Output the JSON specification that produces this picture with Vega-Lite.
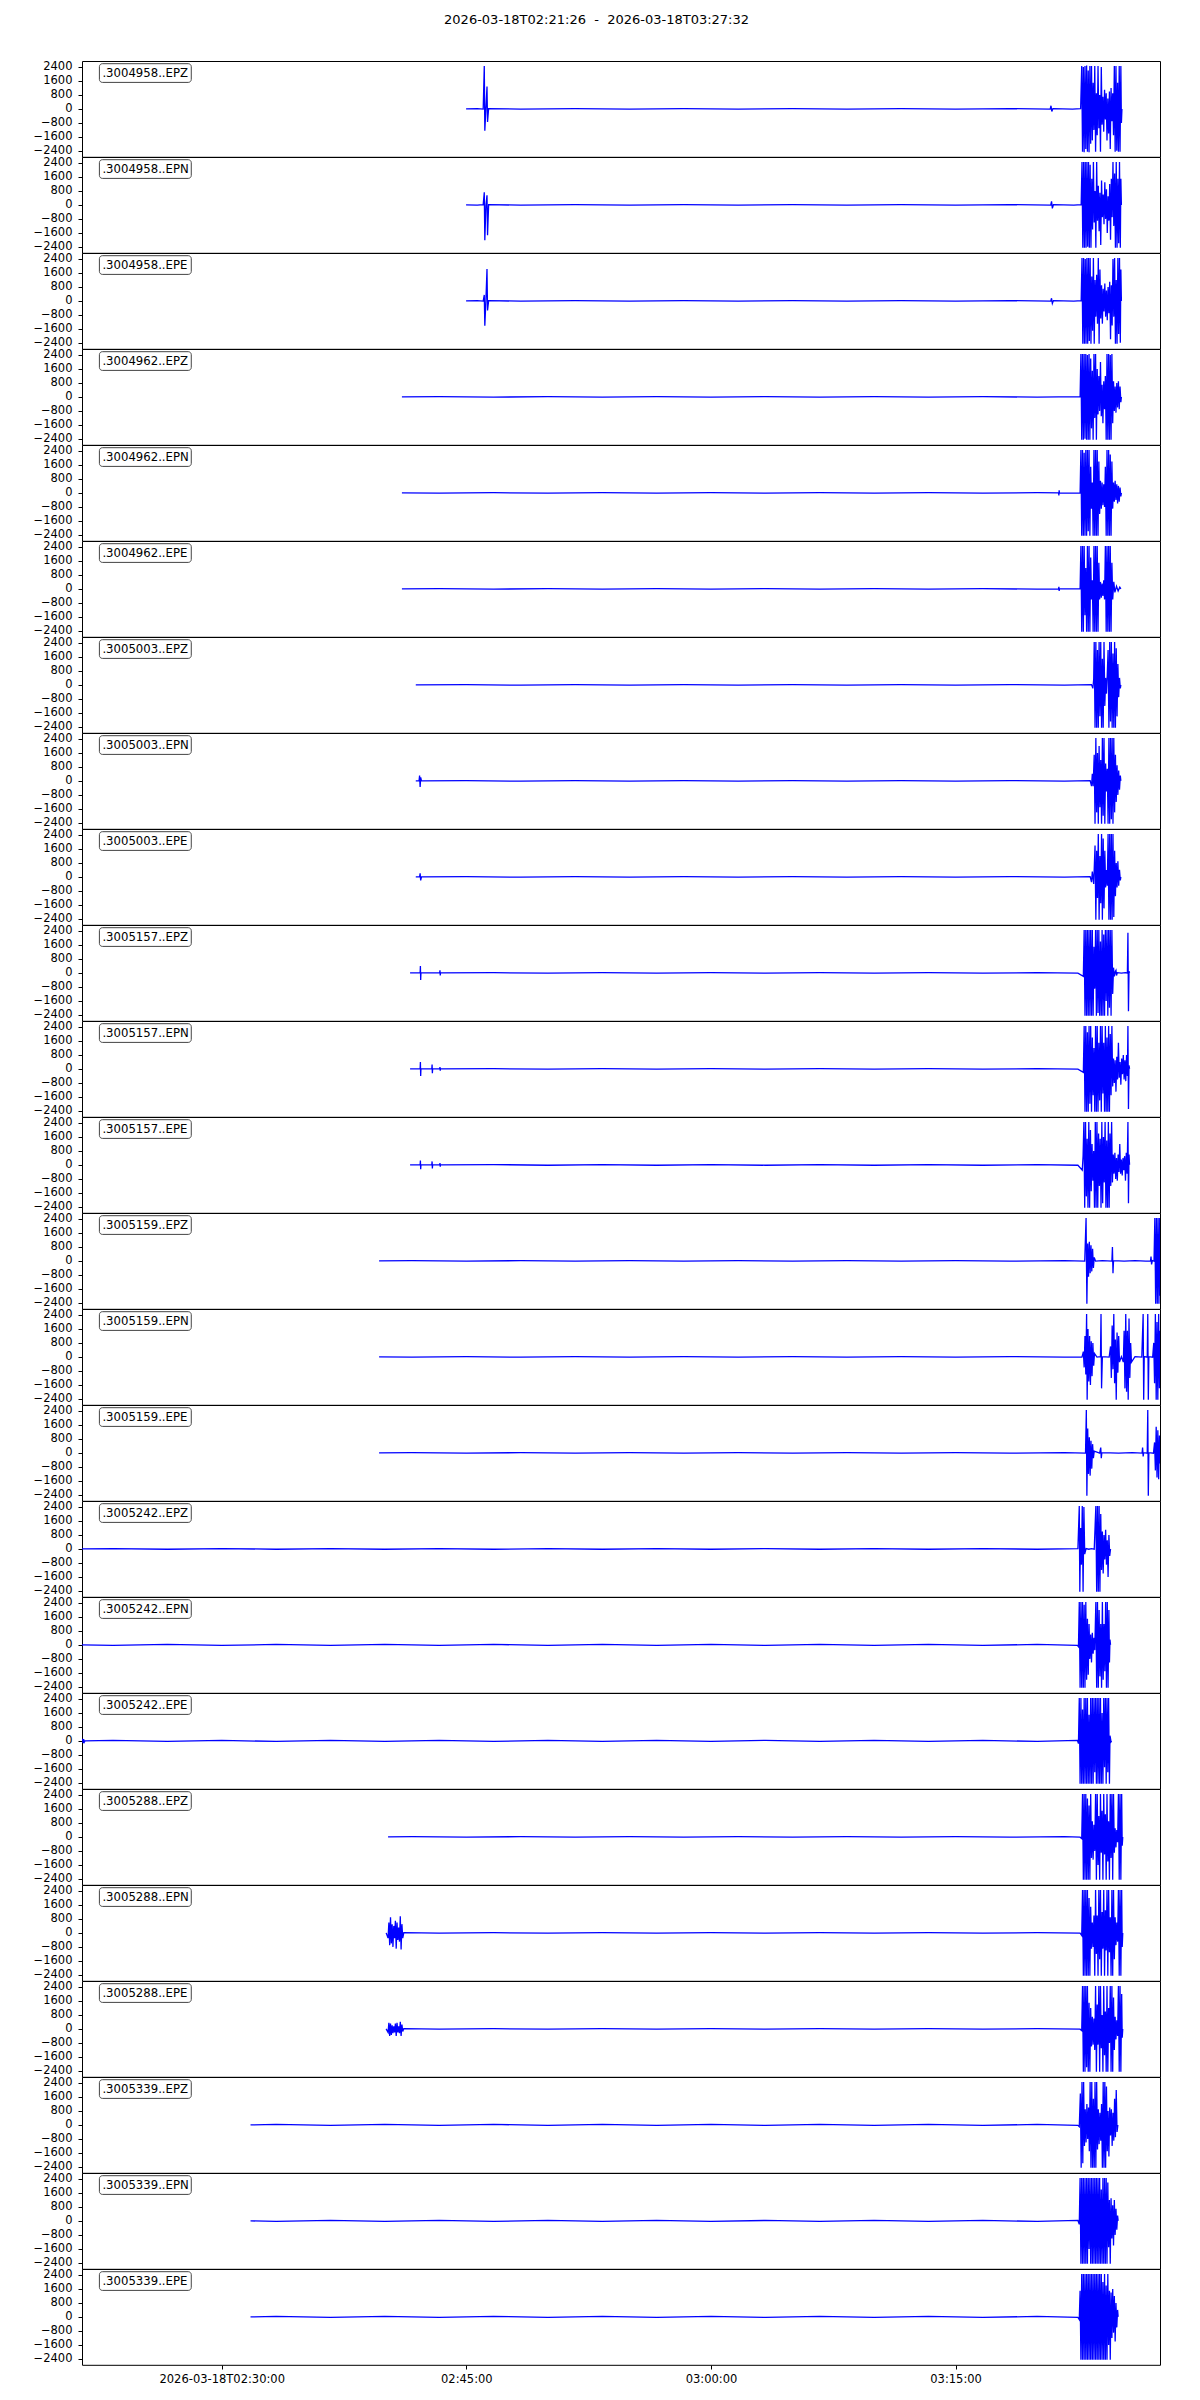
{
"$schema": "https://vega.github.io/schema/vega-lite/v6.json",
"padding": {"left": 32, "top": 14, "right": 41, "bottom": 10},
"background": "white",
"bounds": "flush",
"title": {"text": "2026-03-18T02:21:26\u00a0\u00a0-\u00a0\u00a02026-03-18T03:27:32", "fontSize": 13, "fontWeight": "normal", "font": "DejaVu Sans", "color": "black", "anchor": "middle", "offset": 33},
"data": {"values": [
{"p":1,"name":".3004958..EPZ"},{"p":2,"name":".3004958..EPN"},{"p":3,"name":".3004958..EPE"},
{"p":4,"name":".3004962..EPZ"},{"p":5,"name":".3004962..EPN"},{"p":6,"name":".3004962..EPE"},
{"p":7,"name":".3005003..EPZ"},{"p":8,"name":".3005003..EPN"},{"p":9,"name":".3005003..EPE"},
{"p":10,"name":".3005157..EPZ"},{"p":11,"name":".3005157..EPN"},{"p":12,"name":".3005157..EPE"},
{"p":13,"name":".3005159..EPZ"},{"p":14,"name":".3005159..EPN"},{"p":15,"name":".3005159..EPE"},
{"p":16,"name":".3005242..EPZ"},{"p":17,"name":".3005242..EPN"},{"p":18,"name":".3005242..EPE"},
{"p":19,"name":".3005288..EPZ"},{"p":20,"name":".3005288..EPN"},{"p":21,"name":".3005288..EPE"},
{"p":22,"name":".3005339..EPZ"},{"p":23,"name":".3005339..EPN"},{"p":24,"name":".3005339..EPE"},

{"p":1,"t":2699,"v":0},{"p":1,"t":2740,"v":15},{"p":1,"t":2762,"v":-15},{"p":1,"t":2766,"v":2450},{"p":1,"t":2768,"v":-1250},{"p":1,"t":2772,"v":30},{"p":1,"t":2776,"v":1280},{"p":1,"t":2778,"v":-750},{"p":1,"t":2782,"v":20},{"p":1,"t":2900,"v":-15},{"p":1,"t":3100,"v":15},{"p":1,"t":3300,"v":-15},{"p":1,"t":3500,"v":15},{"p":1,"t":3700,"v":-15},{"p":1,"t":3900,"v":15},{"p":1,"t":4100,"v":-15},{"p":1,"t":4300,"v":15},{"p":1,"t":4500,"v":-15},{"p":1,"t":4700,"v":15},{"p":1,"t":4848,"v":-15},{"p":1,"t":4851,"v":180},{"p":1,"t":4854,"v":-150},{"p":1,"t":4858,"v":15},{"p":1,"t":4930,"v":-15},{"p":1,"t":4960,"v":15},
{"p":1,"t":4964,"v":2450},{"p":1,"t":4967,"v":-2450},{"p":1,"t":4970,"v":2400},{"p":1,"t":4973,"v":-2480},{"p":1,"t":4976,"v":2450},{"p":1,"t":4979,"v":-2300},{"p":1,"t":4982,"v":2480},{"p":1,"t":4985,"v":-2450},{"p":1,"t":4988,"v":2200},{"p":1,"t":4991,"v":-2480},{"p":1,"t":4994,"v":2450},{"p":1,"t":4997,"v":-2000},{"p":1,"t":5000,"v":2450},{"p":1,"t":5003,"v":-1800},{"p":1,"t":5006,"v":1500},{"p":1,"t":5009,"v":-1200},{"p":1,"t":5012,"v":2450},{"p":1,"t":5015,"v":-2450},{"p":1,"t":5018,"v":900},{"p":1,"t":5021,"v":-1500},{"p":1,"t":5024,"v":2450},{"p":1,"t":5027,"v":-1100},{"p":1,"t":5030,"v":800},{"p":1,"t":5033,"v":-2450},{"p":1,"t":5036,"v":2400},{"p":1,"t":5039,"v":-900},{"p":1,"t":5042,"v":700},{"p":1,"t":5045,"v":-1300},{"p":1,"t":5048,"v":1100},{"p":1,"t":5051,"v":-600},{"p":1,"t":5054,"v":900},{"p":1,"t":5057,"v":-1800},{"p":1,"t":5060,"v":600},{"p":1,"t":5063,"v":-1400},{"p":1,"t":5066,"v":1000},{"p":1,"t":5069,"v":-2300},{"p":1,"t":5072,"v":1200},{"p":1,"t":5075,"v":-700},{"p":1,"t":5078,"v":900},{"p":1,"t":5081,"v":-1500},{"p":1,"t":5084,"v":2450},{"p":1,"t":5087,"v":-2450},{"p":1,"t":5090,"v":2450},{"p":1,"t":5093,"v":-2400},{"p":1,"t":5096,"v":1500},{"p":1,"t":5099,"v":-2450},{"p":1,"t":5102,"v":2450},{"p":1,"t":5105,"v":-2450},{"p":1,"t":5108,"v":2450},{"p":1,"t":5110,"v":-800},{"p":1,"t":5112,"v":0},

{"p":2,"t":2699,"v":0},{"p":2,"t":2740,"v":-15},{"p":2,"t":2762,"v":15},{"p":2,"t":2766,"v":720},{"p":2,"t":2768,"v":-2020},{"p":2,"t":2772,"v":-20},{"p":2,"t":2776,"v":550},{"p":2,"t":2778,"v":-1740},{"p":2,"t":2782,"v":15},{"p":2,"t":2900,"v":-15},{"p":2,"t":3100,"v":15},{"p":2,"t":3300,"v":-15},{"p":2,"t":3500,"v":15},{"p":2,"t":3700,"v":-15},{"p":2,"t":3900,"v":15},{"p":2,"t":4100,"v":-15},{"p":2,"t":4300,"v":15},{"p":2,"t":4500,"v":-15},{"p":2,"t":4700,"v":15},{"p":2,"t":4850,"v":-15},{"p":2,"t":4853,"v":200},{"p":2,"t":4856,"v":-200},{"p":2,"t":4860,"v":15},{"p":2,"t":4935,"v":-15},{"p":2,"t":4962,"v":15},
{"p":2,"t":4965,"v":2450},{"p":2,"t":4968,"v":-2450},{"p":2,"t":4971,"v":2450},{"p":2,"t":4974,"v":-2450},{"p":2,"t":4977,"v":2450},{"p":2,"t":4980,"v":-2450},{"p":2,"t":4983,"v":2450},{"p":2,"t":4986,"v":-2400},{"p":2,"t":4989,"v":2450},{"p":2,"t":4992,"v":-2450},{"p":2,"t":4995,"v":2300},{"p":2,"t":4998,"v":-2450},{"p":2,"t":5001,"v":1500},{"p":2,"t":5004,"v":-1400},{"p":2,"t":5007,"v":2450},{"p":2,"t":5010,"v":-1000},{"p":2,"t":5013,"v":800},{"p":2,"t":5016,"v":-2450},{"p":2,"t":5019,"v":2450},{"p":2,"t":5022,"v":-900},{"p":2,"t":5025,"v":1100},{"p":2,"t":5028,"v":-1500},{"p":2,"t":5031,"v":700},{"p":2,"t":5034,"v":-2300},{"p":2,"t":5037,"v":1400},{"p":2,"t":5040,"v":-700},{"p":2,"t":5043,"v":600},{"p":2,"t":5046,"v":-1100},{"p":2,"t":5049,"v":1300},{"p":2,"t":5052,"v":-800},{"p":2,"t":5055,"v":900},{"p":2,"t":5058,"v":-1600},{"p":2,"t":5061,"v":500},{"p":2,"t":5064,"v":-900},{"p":2,"t":5067,"v":1200},{"p":2,"t":5070,"v":-2000},{"p":2,"t":5073,"v":1500},{"p":2,"t":5076,"v":-700},{"p":2,"t":5079,"v":2450},{"p":2,"t":5082,"v":-1200},{"p":2,"t":5085,"v":1800},{"p":2,"t":5088,"v":-2450},{"p":2,"t":5091,"v":2450},{"p":2,"t":5094,"v":-2450},{"p":2,"t":5097,"v":1500},{"p":2,"t":5100,"v":-2200},{"p":2,"t":5103,"v":2450},{"p":2,"t":5106,"v":-2450},{"p":2,"t":5108,"v":1500},{"p":2,"t":5110,"v":0},

{"p":3,"t":2699,"v":0},{"p":3,"t":2740,"v":15},{"p":3,"t":2762,"v":-15},{"p":3,"t":2766,"v":340},{"p":3,"t":2768,"v":-1420},{"p":3,"t":2772,"v":20},{"p":3,"t":2776,"v":1830},{"p":3,"t":2778,"v":-550},{"p":3,"t":2782,"v":15},{"p":3,"t":2900,"v":-15},{"p":3,"t":3100,"v":15},{"p":3,"t":3300,"v":-15},{"p":3,"t":3500,"v":15},{"p":3,"t":3700,"v":-15},{"p":3,"t":3900,"v":15},{"p":3,"t":4100,"v":-15},{"p":3,"t":4300,"v":15},{"p":3,"t":4500,"v":-15},{"p":3,"t":4700,"v":15},{"p":3,"t":4850,"v":-15},{"p":3,"t":4853,"v":150},{"p":3,"t":4856,"v":-150},{"p":3,"t":4860,"v":15},{"p":3,"t":4935,"v":-15},{"p":3,"t":4962,"v":15},
{"p":3,"t":4965,"v":2450},{"p":3,"t":4968,"v":-2450},{"p":3,"t":4971,"v":2450},{"p":3,"t":4974,"v":-2450},{"p":3,"t":4977,"v":2400},{"p":3,"t":4980,"v":-2450},{"p":3,"t":4983,"v":2450},{"p":3,"t":4986,"v":-2450},{"p":3,"t":4989,"v":2450},{"p":3,"t":4992,"v":-2300},{"p":3,"t":4995,"v":2450},{"p":3,"t":4998,"v":-2450},{"p":3,"t":5001,"v":1400},{"p":3,"t":5004,"v":-1700},{"p":3,"t":5007,"v":2450},{"p":3,"t":5010,"v":-2450},{"p":3,"t":5013,"v":1200},{"p":3,"t":5016,"v":-900},{"p":3,"t":5019,"v":1500},{"p":3,"t":5022,"v":-1300},{"p":3,"t":5025,"v":2450},{"p":3,"t":5028,"v":-2450},{"p":3,"t":5031,"v":1800},{"p":3,"t":5034,"v":-1000},{"p":3,"t":5037,"v":900},{"p":3,"t":5040,"v":-1300},{"p":3,"t":5043,"v":700},{"p":3,"t":5046,"v":-600},{"p":3,"t":5049,"v":1000},{"p":3,"t":5052,"v":-900},{"p":3,"t":5055,"v":600},{"p":3,"t":5058,"v":-1100},{"p":3,"t":5061,"v":800},{"p":3,"t":5064,"v":-700},{"p":3,"t":5067,"v":1100},{"p":3,"t":5070,"v":-2200},{"p":3,"t":5073,"v":900},{"p":3,"t":5076,"v":-1400},{"p":3,"t":5079,"v":2400},{"p":3,"t":5082,"v":-900},{"p":3,"t":5085,"v":2450},{"p":3,"t":5088,"v":-2450},{"p":3,"t":5091,"v":1200},{"p":3,"t":5094,"v":-2450},{"p":3,"t":5097,"v":2450},{"p":3,"t":5100,"v":-1900},{"p":3,"t":5103,"v":2450},{"p":3,"t":5106,"v":-2400},{"p":3,"t":5108,"v":1800},{"p":3,"t":5110,"v":0},

{"p":4,"t":2463,"v":0},{"p":4,"t":2600,"v":15},{"p":4,"t":2800,"v":-15},{"p":4,"t":3000,"v":15},{"p":4,"t":3200,"v":-15},{"p":4,"t":3400,"v":15},{"p":4,"t":3600,"v":-15},{"p":4,"t":3800,"v":15},{"p":4,"t":4000,"v":-15},{"p":4,"t":4200,"v":15},{"p":4,"t":4400,"v":-15},{"p":4,"t":4600,"v":15},{"p":4,"t":4800,"v":-15},{"p":4,"t":4958,"v":15},
{"p":4,"t":4961,"v":2450},{"p":4,"t":4964,"v":-2450},{"p":4,"t":4967,"v":2450},{"p":4,"t":4970,"v":-2450},{"p":4,"t":4973,"v":2450},{"p":4,"t":4976,"v":-2400},{"p":4,"t":4979,"v":2450},{"p":4,"t":4982,"v":-2450},{"p":4,"t":4985,"v":2400},{"p":4,"t":4988,"v":-2450},{"p":4,"t":4991,"v":2450},{"p":4,"t":4994,"v":-2450},{"p":4,"t":4997,"v":2200},{"p":4,"t":5000,"v":-1800},{"p":4,"t":5003,"v":1500},{"p":4,"t":5006,"v":-2450},{"p":4,"t":5009,"v":2450},{"p":4,"t":5012,"v":-1200},{"p":4,"t":5015,"v":2450},{"p":4,"t":5018,"v":-2450},{"p":4,"t":5021,"v":1600},{"p":4,"t":5024,"v":-1000},{"p":4,"t":5027,"v":1200},{"p":4,"t":5030,"v":-800},{"p":4,"t":5033,"v":2000},{"p":4,"t":5036,"v":-1100},{"p":4,"t":5039,"v":700},{"p":4,"t":5042,"v":-1500},{"p":4,"t":5045,"v":900},{"p":4,"t":5048,"v":-700},{"p":4,"t":5051,"v":1200},{"p":4,"t":5054,"v":-2450},{"p":4,"t":5057,"v":2450},{"p":4,"t":5060,"v":-2450},{"p":4,"t":5063,"v":2450},{"p":4,"t":5066,"v":-2450},{"p":4,"t":5069,"v":2400},{"p":4,"t":5072,"v":-2450},{"p":4,"t":5075,"v":2450},{"p":4,"t":5078,"v":-1500},{"p":4,"t":5081,"v":900},{"p":4,"t":5084,"v":-800},{"p":4,"t":5087,"v":600},{"p":4,"t":5090,"v":-900},{"p":4,"t":5093,"v":800},{"p":4,"t":5096,"v":-600},{"p":4,"t":5099,"v":900},{"p":4,"t":5102,"v":-700},{"p":4,"t":5105,"v":600},{"p":4,"t":5108,"v":-300},{"p":4,"t":5110,"v":0},

{"p":5,"t":2463,"v":0},{"p":5,"t":2600,"v":-15},{"p":5,"t":2800,"v":15},{"p":5,"t":3000,"v":-15},{"p":5,"t":3200,"v":15},{"p":5,"t":3400,"v":-15},{"p":5,"t":3600,"v":15},{"p":5,"t":3800,"v":-15},{"p":5,"t":4000,"v":15},{"p":5,"t":4200,"v":-15},{"p":5,"t":4400,"v":15},{"p":5,"t":4600,"v":-15},{"p":5,"t":4800,"v":15},{"p":5,"t":4879,"v":0},{"p":5,"t":4880,"v":-150},{"p":5,"t":4881,"v":150},{"p":5,"t":4882,"v":0},{"p":5,"t":4958,"v":-15},
{"p":5,"t":4961,"v":2450},{"p":5,"t":4964,"v":-2450},{"p":5,"t":4967,"v":2450},{"p":5,"t":4970,"v":-2450},{"p":5,"t":4973,"v":2300},{"p":5,"t":4976,"v":-2450},{"p":5,"t":4979,"v":2450},{"p":5,"t":4982,"v":-2450},{"p":5,"t":4985,"v":2450},{"p":5,"t":4988,"v":-2200},{"p":5,"t":4991,"v":2450},{"p":5,"t":4994,"v":-2450},{"p":5,"t":4997,"v":1500},{"p":5,"t":5000,"v":-900},{"p":5,"t":5003,"v":600},{"p":5,"t":5006,"v":-2450},{"p":5,"t":5009,"v":2450},{"p":5,"t":5012,"v":-2450},{"p":5,"t":5015,"v":2450},{"p":5,"t":5018,"v":-2450},{"p":5,"t":5021,"v":2450},{"p":5,"t":5024,"v":-2450},{"p":5,"t":5027,"v":1800},{"p":5,"t":5030,"v":-1200},{"p":5,"t":5033,"v":700},{"p":5,"t":5036,"v":-900},{"p":5,"t":5039,"v":600},{"p":5,"t":5042,"v":-700},{"p":5,"t":5045,"v":500},{"p":5,"t":5048,"v":-800},{"p":5,"t":5051,"v":1500},{"p":5,"t":5054,"v":-2450},{"p":5,"t":5057,"v":2450},{"p":5,"t":5060,"v":-2450},{"p":5,"t":5063,"v":2450},{"p":5,"t":5066,"v":-2450},{"p":5,"t":5069,"v":2200},{"p":5,"t":5072,"v":-2450},{"p":5,"t":5075,"v":1800},{"p":5,"t":5078,"v":-900},{"p":5,"t":5081,"v":600},{"p":5,"t":5084,"v":-500},{"p":5,"t":5087,"v":700},{"p":5,"t":5090,"v":-400},{"p":5,"t":5093,"v":500},{"p":5,"t":5096,"v":-600},{"p":5,"t":5099,"v":400},{"p":5,"t":5102,"v":-500},{"p":5,"t":5105,"v":300},{"p":5,"t":5108,"v":-200},{"p":5,"t":5110,"v":0},

{"p":6,"t":2463,"v":0},{"p":6,"t":2600,"v":15},{"p":6,"t":2800,"v":-15},{"p":6,"t":3000,"v":15},{"p":6,"t":3200,"v":-15},{"p":6,"t":3400,"v":15},{"p":6,"t":3600,"v":-15},{"p":6,"t":3800,"v":15},{"p":6,"t":4000,"v":-15},{"p":6,"t":4200,"v":15},{"p":6,"t":4400,"v":-15},{"p":6,"t":4600,"v":15},{"p":6,"t":4800,"v":-15},{"p":6,"t":4879,"v":0},{"p":6,"t":4880,"v":120},{"p":6,"t":4881,"v":-120},{"p":6,"t":4882,"v":0},{"p":6,"t":4958,"v":15},
{"p":6,"t":4961,"v":2450},{"p":6,"t":4964,"v":-2450},{"p":6,"t":4967,"v":2450},{"p":6,"t":4970,"v":-2450},{"p":6,"t":4973,"v":2450},{"p":6,"t":4976,"v":-1500},{"p":6,"t":4979,"v":1200},{"p":6,"t":4982,"v":-2450},{"p":6,"t":4985,"v":2450},{"p":6,"t":4988,"v":-2450},{"p":6,"t":4991,"v":2450},{"p":6,"t":4994,"v":-2450},{"p":6,"t":4997,"v":1800},{"p":6,"t":5000,"v":-600},{"p":6,"t":5003,"v":500},{"p":6,"t":5006,"v":-2450},{"p":6,"t":5009,"v":2450},{"p":6,"t":5012,"v":-2450},{"p":6,"t":5015,"v":2450},{"p":6,"t":5018,"v":-2450},{"p":6,"t":5021,"v":2450},{"p":6,"t":5024,"v":-2450},{"p":6,"t":5027,"v":1500},{"p":6,"t":5030,"v":-600},{"p":6,"t":5033,"v":400},{"p":6,"t":5036,"v":-500},{"p":6,"t":5039,"v":300},{"p":6,"t":5042,"v":-400},{"p":6,"t":5045,"v":500},{"p":6,"t":5048,"v":-600},{"p":6,"t":5051,"v":2450},{"p":6,"t":5054,"v":-2450},{"p":6,"t":5057,"v":2450},{"p":6,"t":5060,"v":-2450},{"p":6,"t":5063,"v":2450},{"p":6,"t":5066,"v":-2450},{"p":6,"t":5069,"v":2450},{"p":6,"t":5072,"v":-2450},{"p":6,"t":5075,"v":1500},{"p":6,"t":5078,"v":-600},{"p":6,"t":5082,"v":400},{"p":6,"t":5086,"v":-200},{"p":6,"t":5092,"v":150},{"p":6,"t":5098,"v":-120},{"p":6,"t":5104,"v":100},{"p":6,"t":5108,"v":0},

{"p":7,"t":2514,"v":0},{"p":7,"t":2700,"v":15},{"p":7,"t":2900,"v":-15},{"p":7,"t":3100,"v":15},{"p":7,"t":3300,"v":-15},{"p":7,"t":3500,"v":15},{"p":7,"t":3700,"v":-15},{"p":7,"t":3900,"v":15},{"p":7,"t":4100,"v":-15},{"p":7,"t":4300,"v":15},{"p":7,"t":4500,"v":-15},{"p":7,"t":4700,"v":15},{"p":7,"t":4900,"v":-15},{"p":7,"t":5000,"v":15},
{"p":7,"t":5005,"v":-200},{"p":7,"t":5008,"v":300},{"p":7,"t":5010,"v":2450},{"p":7,"t":5013,"v":-2450},{"p":7,"t":5016,"v":2450},{"p":7,"t":5019,"v":-2450},{"p":7,"t":5022,"v":2000},{"p":7,"t":5025,"v":-2450},{"p":7,"t":5028,"v":2450},{"p":7,"t":5031,"v":-1800},{"p":7,"t":5034,"v":2450},{"p":7,"t":5037,"v":-2450},{"p":7,"t":5040,"v":1500},{"p":7,"t":5043,"v":-2450},{"p":7,"t":5046,"v":2450},{"p":7,"t":5049,"v":-1200},{"p":7,"t":5052,"v":400},{"p":7,"t":5055,"v":-500},{"p":7,"t":5058,"v":600},{"p":7,"t":5061,"v":2000},{"p":7,"t":5064,"v":-2450},{"p":7,"t":5067,"v":2450},{"p":7,"t":5070,"v":-2100},{"p":7,"t":5073,"v":2450},{"p":7,"t":5076,"v":-2450},{"p":7,"t":5079,"v":1800},{"p":7,"t":5082,"v":-2450},{"p":7,"t":5085,"v":2450},{"p":7,"t":5088,"v":-2450},{"p":7,"t":5091,"v":2100},{"p":7,"t":5094,"v":-1800},{"p":7,"t":5097,"v":1200},{"p":7,"t":5100,"v":-700},{"p":7,"t":5103,"v":400},{"p":7,"t":5106,"v":-200},{"p":7,"t":5108,"v":0},

{"p":8,"t":2514,"v":0},{"p":8,"t":2526,"v":0},{"p":8,"t":2528,"v":300},{"p":8,"t":2530,"v":-350},{"p":8,"t":2532,"v":200},{"p":8,"t":2535,"v":0},{"p":8,"t":2700,"v":15},{"p":8,"t":2900,"v":-15},{"p":8,"t":3100,"v":15},{"p":8,"t":3300,"v":-15},{"p":8,"t":3500,"v":15},{"p":8,"t":3700,"v":-15},{"p":8,"t":3900,"v":15},{"p":8,"t":4100,"v":-15},{"p":8,"t":4300,"v":15},{"p":8,"t":4500,"v":-15},{"p":8,"t":4700,"v":15},{"p":8,"t":4900,"v":-15},{"p":8,"t":4995,"v":15},
{"p":8,"t":5000,"v":-300},{"p":8,"t":5003,"v":400},{"p":8,"t":5006,"v":-300},{"p":8,"t":5010,"v":1500},{"p":8,"t":5013,"v":-2450},{"p":8,"t":5016,"v":2450},{"p":8,"t":5019,"v":-1800},{"p":8,"t":5022,"v":1600},{"p":8,"t":5025,"v":-2450},{"p":8,"t":5028,"v":2000},{"p":8,"t":5031,"v":-1500},{"p":8,"t":5034,"v":1200},{"p":8,"t":5037,"v":-2450},{"p":8,"t":5040,"v":2450},{"p":8,"t":5043,"v":-2000},{"p":8,"t":5046,"v":2450},{"p":8,"t":5049,"v":-2450},{"p":8,"t":5052,"v":1000},{"p":8,"t":5055,"v":-600},{"p":8,"t":5058,"v":700},{"p":8,"t":5061,"v":-2450},{"p":8,"t":5064,"v":2450},{"p":8,"t":5067,"v":-2450},{"p":8,"t":5070,"v":2450},{"p":8,"t":5073,"v":-2200},{"p":8,"t":5076,"v":2450},{"p":8,"t":5079,"v":-2450},{"p":8,"t":5082,"v":2450},{"p":8,"t":5085,"v":-1800},{"p":8,"t":5088,"v":1500},{"p":8,"t":5091,"v":-1200},{"p":8,"t":5094,"v":900},{"p":8,"t":5097,"v":-800},{"p":8,"t":5100,"v":600},{"p":8,"t":5103,"v":-500},{"p":8,"t":5106,"v":300},{"p":8,"t":5108,"v":0},

{"p":9,"t":2514,"v":0},{"p":9,"t":2528,"v":0},{"p":9,"t":2530,"v":200},{"p":9,"t":2532,"v":-200},{"p":9,"t":2535,"v":0},{"p":9,"t":2700,"v":15},{"p":9,"t":2900,"v":-15},{"p":9,"t":3100,"v":15},{"p":9,"t":3300,"v":-15},{"p":9,"t":3500,"v":15},{"p":9,"t":3700,"v":-15},{"p":9,"t":3900,"v":15},{"p":9,"t":4100,"v":-15},{"p":9,"t":4300,"v":15},{"p":9,"t":4500,"v":-15},{"p":9,"t":4700,"v":15},{"p":9,"t":4900,"v":-15},{"p":9,"t":4995,"v":15},
{"p":9,"t":5000,"v":-300},{"p":9,"t":5003,"v":300},{"p":9,"t":5008,"v":-400},{"p":9,"t":5013,"v":1800},{"p":9,"t":5016,"v":-2450},{"p":9,"t":5019,"v":1500},{"p":9,"t":5022,"v":-1200},{"p":9,"t":5025,"v":2450},{"p":9,"t":5028,"v":-2450},{"p":9,"t":5031,"v":1200},{"p":9,"t":5034,"v":-1500},{"p":9,"t":5037,"v":2450},{"p":9,"t":5040,"v":-2450},{"p":9,"t":5043,"v":2200},{"p":9,"t":5046,"v":-1800},{"p":9,"t":5049,"v":1500},{"p":9,"t":5052,"v":-600},{"p":9,"t":5055,"v":400},{"p":9,"t":5058,"v":-500},{"p":9,"t":5061,"v":2450},{"p":9,"t":5064,"v":-2450},{"p":9,"t":5067,"v":2450},{"p":9,"t":5070,"v":-2450},{"p":9,"t":5073,"v":2450},{"p":9,"t":5076,"v":-2450},{"p":9,"t":5079,"v":2450},{"p":9,"t":5082,"v":-2300},{"p":9,"t":5085,"v":1500},{"p":9,"t":5088,"v":-1100},{"p":9,"t":5091,"v":800},{"p":9,"t":5094,"v":-600},{"p":9,"t":5097,"v":900},{"p":9,"t":5100,"v":-500},{"p":9,"t":5103,"v":400},{"p":9,"t":5106,"v":-200},{"p":9,"t":5108,"v":0},

{"p":10,"t":2493,"v":0},{"p":10,"t":2530,"v":0},{"p":10,"t":2531,"v":400},{"p":10,"t":2532,"v":-400},{"p":10,"t":2533,"v":0},{"p":10,"t":2602,"v":0},{"p":10,"t":2603,"v":150},{"p":10,"t":2604,"v":-150},{"p":10,"t":2605,"v":0},{"p":10,"t":2800,"v":15},{"p":10,"t":3000,"v":-15},{"p":10,"t":3200,"v":15},{"p":10,"t":3400,"v":-15},{"p":10,"t":3600,"v":15},{"p":10,"t":3800,"v":-15},{"p":10,"t":4000,"v":15},{"p":10,"t":4200,"v":-15},{"p":10,"t":4400,"v":15},{"p":10,"t":4600,"v":-15},{"p":10,"t":4800,"v":15},{"p":10,"t":4950,"v":-15},
{"p":10,"t":4970,"v":-200},{"p":10,"t":4973,"v":2450},{"p":10,"t":4976,"v":-2450},{"p":10,"t":4979,"v":2450},{"p":10,"t":4982,"v":-2450},{"p":10,"t":4985,"v":2450},{"p":10,"t":4988,"v":-2450},{"p":10,"t":4991,"v":2450},{"p":10,"t":4994,"v":-2450},{"p":10,"t":4997,"v":2450},{"p":10,"t":5000,"v":-2450},{"p":10,"t":5003,"v":2450},{"p":10,"t":5006,"v":-2450},{"p":10,"t":5009,"v":1500},{"p":10,"t":5012,"v":-900},{"p":10,"t":5015,"v":2450},{"p":10,"t":5018,"v":-2450},{"p":10,"t":5021,"v":2450},{"p":10,"t":5024,"v":-2300},{"p":10,"t":5027,"v":2450},{"p":10,"t":5030,"v":-2450},{"p":10,"t":5033,"v":1800},{"p":10,"t":5036,"v":-2450},{"p":10,"t":5039,"v":2450},{"p":10,"t":5042,"v":-2450},{"p":10,"t":5045,"v":2200},{"p":10,"t":5048,"v":-2450},{"p":10,"t":5051,"v":2450},{"p":10,"t":5054,"v":-1600},{"p":10,"t":5057,"v":2450},{"p":10,"t":5060,"v":-2450},{"p":10,"t":5063,"v":2450},{"p":10,"t":5066,"v":-2000},{"p":10,"t":5069,"v":2450},{"p":10,"t":5072,"v":-2450},{"p":10,"t":5075,"v":2450},{"p":10,"t":5078,"v":-1200},{"p":10,"t":5081,"v":300},{"p":10,"t":5084,"v":-200},{"p":10,"t":5088,"v":100},{"p":10,"t":5090,"v":150},{"p":10,"t":5092,"v":-150},{"p":10,"t":5095,"v":15},{"p":10,"t":5110,"v":-15},{"p":10,"t":5125,"v":15},{"p":10,"t":5132,"v":-15},{"p":10,"t":5134,"v":2300},{"p":10,"t":5136,"v":-2200},{"p":10,"t":5138,"v":100},{"p":10,"t":5140,"v":0},

{"p":11,"t":2493,"v":0},{"p":11,"t":2530,"v":0},{"p":11,"t":2531,"v":400},{"p":11,"t":2532,"v":-400},{"p":11,"t":2533,"v":0},{"p":11,"t":2573,"v":0},{"p":11,"t":2574,"v":250},{"p":11,"t":2575,"v":-250},{"p":11,"t":2576,"v":0},{"p":11,"t":2602,"v":0},{"p":11,"t":2603,"v":100},{"p":11,"t":2604,"v":-100},{"p":11,"t":2605,"v":0},{"p":11,"t":2800,"v":15},{"p":11,"t":3000,"v":-15},{"p":11,"t":3200,"v":15},{"p":11,"t":3400,"v":-15},{"p":11,"t":3600,"v":15},{"p":11,"t":3800,"v":-15},{"p":11,"t":4000,"v":15},{"p":11,"t":4200,"v":-15},{"p":11,"t":4400,"v":15},{"p":11,"t":4600,"v":-15},{"p":11,"t":4800,"v":15},{"p":11,"t":4950,"v":-15},
{"p":11,"t":4970,"v":-200},{"p":11,"t":4973,"v":2450},{"p":11,"t":4976,"v":-2450},{"p":11,"t":4979,"v":2450},{"p":11,"t":4982,"v":-2450},{"p":11,"t":4985,"v":2100},{"p":11,"t":4988,"v":-2450},{"p":11,"t":4991,"v":2450},{"p":11,"t":4994,"v":-2000},{"p":11,"t":4997,"v":2450},{"p":11,"t":5000,"v":-2450},{"p":11,"t":5003,"v":1800},{"p":11,"t":5006,"v":-1500},{"p":11,"t":5009,"v":1200},{"p":11,"t":5012,"v":-2450},{"p":11,"t":5015,"v":2450},{"p":11,"t":5018,"v":-2450},{"p":11,"t":5021,"v":2450},{"p":11,"t":5024,"v":-2450},{"p":11,"t":5027,"v":1500},{"p":11,"t":5030,"v":-1800},{"p":11,"t":5033,"v":2450},{"p":11,"t":5036,"v":-2450},{"p":11,"t":5039,"v":2450},{"p":11,"t":5042,"v":-1400},{"p":11,"t":5045,"v":1500},{"p":11,"t":5048,"v":-2450},{"p":11,"t":5051,"v":2450},{"p":11,"t":5054,"v":-2450},{"p":11,"t":5057,"v":1800},{"p":11,"t":5060,"v":-2450},{"p":11,"t":5063,"v":2450},{"p":11,"t":5066,"v":-2450},{"p":11,"t":5069,"v":2000},{"p":11,"t":5072,"v":-1500},{"p":11,"t":5075,"v":2450},{"p":11,"t":5078,"v":-1000},{"p":11,"t":5081,"v":600},{"p":11,"t":5084,"v":-800},{"p":11,"t":5087,"v":500},{"p":11,"t":5090,"v":-1300},{"p":11,"t":5093,"v":700},{"p":11,"t":5096,"v":-600},{"p":11,"t":5099,"v":1500},{"p":11,"t":5102,"v":-500},{"p":11,"t":5105,"v":400},{"p":11,"t":5108,"v":-900},{"p":11,"t":5111,"v":600},{"p":11,"t":5114,"v":-300},{"p":11,"t":5117,"v":800},{"p":11,"t":5120,"v":-600},{"p":11,"t":5123,"v":500},{"p":11,"t":5126,"v":-700},{"p":11,"t":5129,"v":800},{"p":11,"t":5132,"v":-400},{"p":11,"t":5134,"v":2450},{"p":11,"t":5136,"v":-2300},{"p":11,"t":5138,"v":200},{"p":11,"t":5140,"v":0},

{"p":12,"t":2493,"v":0},{"p":12,"t":2530,"v":0},{"p":12,"t":2531,"v":250},{"p":12,"t":2532,"v":-250},{"p":12,"t":2533,"v":0},{"p":12,"t":2573,"v":0},{"p":12,"t":2574,"v":200},{"p":12,"t":2575,"v":-200},{"p":12,"t":2576,"v":0},{"p":12,"t":2602,"v":0},{"p":12,"t":2603,"v":100},{"p":12,"t":2604,"v":-100},{"p":12,"t":2605,"v":0},{"p":12,"t":2800,"v":20},{"p":12,"t":3000,"v":-20},{"p":12,"t":3200,"v":20},{"p":12,"t":3400,"v":-20},{"p":12,"t":3600,"v":20},{"p":12,"t":3800,"v":-20},{"p":12,"t":4000,"v":20},{"p":12,"t":4200,"v":-20},{"p":12,"t":4400,"v":20},{"p":12,"t":4600,"v":-20},{"p":12,"t":4800,"v":20},{"p":12,"t":4950,"v":-20},
{"p":12,"t":4966,"v":-300},{"p":12,"t":4969,"v":500},{"p":12,"t":4972,"v":2450},{"p":12,"t":4975,"v":-2450},{"p":12,"t":4978,"v":2450},{"p":12,"t":4981,"v":-1800},{"p":12,"t":4984,"v":1500},{"p":12,"t":4987,"v":-2450},{"p":12,"t":4990,"v":2450},{"p":12,"t":4993,"v":-2450},{"p":12,"t":4996,"v":2000},{"p":12,"t":4999,"v":-1500},{"p":12,"t":5002,"v":1200},{"p":12,"t":5005,"v":-900},{"p":12,"t":5008,"v":800},{"p":12,"t":5011,"v":-2450},{"p":12,"t":5014,"v":2450},{"p":12,"t":5017,"v":-2450},{"p":12,"t":5020,"v":2450},{"p":12,"t":5023,"v":-2450},{"p":12,"t":5026,"v":1800},{"p":12,"t":5029,"v":-1200},{"p":12,"t":5032,"v":1500},{"p":12,"t":5035,"v":-2450},{"p":12,"t":5038,"v":2450},{"p":12,"t":5041,"v":-2200},{"p":12,"t":5044,"v":1600},{"p":12,"t":5047,"v":-1000},{"p":12,"t":5050,"v":2450},{"p":12,"t":5053,"v":-2450},{"p":12,"t":5056,"v":1400},{"p":12,"t":5059,"v":-2450},{"p":12,"t":5062,"v":2450},{"p":12,"t":5065,"v":-2450},{"p":12,"t":5068,"v":1800},{"p":12,"t":5071,"v":-1200},{"p":12,"t":5074,"v":2450},{"p":12,"t":5077,"v":-1000},{"p":12,"t":5080,"v":600},{"p":12,"t":5083,"v":-500},{"p":12,"t":5086,"v":700},{"p":12,"t":5089,"v":-800},{"p":12,"t":5092,"v":400},{"p":12,"t":5095,"v":-900},{"p":12,"t":5098,"v":600},{"p":12,"t":5101,"v":-400},{"p":12,"t":5104,"v":1200},{"p":12,"t":5107,"v":-500},{"p":12,"t":5110,"v":300},{"p":12,"t":5113,"v":-600},{"p":12,"t":5116,"v":400},{"p":12,"t":5119,"v":-300},{"p":12,"t":5122,"v":500},{"p":12,"t":5125,"v":-900},{"p":12,"t":5128,"v":700},{"p":12,"t":5131,"v":-500},{"p":12,"t":5134,"v":2450},{"p":12,"t":5136,"v":-2200},{"p":12,"t":5138,"v":600},{"p":12,"t":5140,"v":0},

{"p":13,"t":2379,"v":0},{"p":13,"t":2500,"v":15},{"p":13,"t":2700,"v":-15},{"p":13,"t":2900,"v":15},{"p":13,"t":3100,"v":-15},{"p":13,"t":3300,"v":15},{"p":13,"t":3500,"v":-15},{"p":13,"t":3700,"v":15},{"p":13,"t":3900,"v":-15},{"p":13,"t":4100,"v":15},{"p":13,"t":4300,"v":-15},{"p":13,"t":4500,"v":15},{"p":13,"t":4700,"v":-15},{"p":13,"t":4900,"v":15},{"p":13,"t":4975,"v":-15},
{"p":13,"t":4980,"v":2450},{"p":13,"t":4983,"v":-2450},{"p":13,"t":4986,"v":1000},{"p":13,"t":4989,"v":-900},{"p":13,"t":4992,"v":1100},{"p":13,"t":4995,"v":-700},{"p":13,"t":4998,"v":900},{"p":13,"t":5001,"v":-600},{"p":13,"t":5004,"v":700},{"p":13,"t":5007,"v":-400},{"p":13,"t":5010,"v":200},{"p":13,"t":5015,"v":-15},{"p":13,"t":5040,"v":15},{"p":13,"t":5075,"v":-15},{"p":13,"t":5077,"v":800},{"p":13,"t":5079,"v":-700},{"p":13,"t":5081,"v":15},{"p":13,"t":5120,"v":-15},{"p":13,"t":5160,"v":15},{"p":13,"t":5200,"v":-15},{"p":13,"t":5217,"v":-15},{"p":13,"t":5219,"v":250},{"p":13,"t":5221,"v":-200},{"p":13,"t":5224,"v":15},{"p":13,"t":5230,"v":-15},{"p":13,"t":5233,"v":2450},{"p":13,"t":5236,"v":-2450},{"p":13,"t":5239,"v":2450},{"p":13,"t":5242,"v":-2450},{"p":13,"t":5245,"v":2450},{"p":13,"t":5248,"v":-2450},{"p":13,"t":5251,"v":2450},{"p":13,"t":5252,"v":-2000},

{"p":14,"t":2379,"v":0},{"p":14,"t":2500,"v":-15},{"p":14,"t":2700,"v":15},{"p":14,"t":2900,"v":-15},{"p":14,"t":3100,"v":15},{"p":14,"t":3300,"v":-15},{"p":14,"t":3500,"v":15},{"p":14,"t":3700,"v":-15},{"p":14,"t":3900,"v":15},{"p":14,"t":4100,"v":-15},{"p":14,"t":4300,"v":15},{"p":14,"t":4500,"v":-15},{"p":14,"t":4700,"v":15},{"p":14,"t":4900,"v":-15},{"p":14,"t":4965,"v":-15},
{"p":14,"t":4970,"v":300},{"p":14,"t":4973,"v":-600},{"p":14,"t":4976,"v":1200},{"p":14,"t":4979,"v":-1000},{"p":14,"t":4982,"v":2450},{"p":14,"t":4984,"v":-2450},{"p":14,"t":4987,"v":1600},{"p":14,"t":4990,"v":-1400},{"p":14,"t":4993,"v":1200},{"p":14,"t":4996,"v":-1600},{"p":14,"t":4999,"v":900},{"p":14,"t":5002,"v":-1100},{"p":14,"t":5005,"v":800},{"p":14,"t":5008,"v":-500},{"p":14,"t":5011,"v":200},{"p":14,"t":5020,"v":-15},{"p":14,"t":5033,"v":15},{"p":14,"t":5035,"v":2450},{"p":14,"t":5037,"v":-1800},{"p":14,"t":5040,"v":15},{"p":14,"t":5065,"v":-15},{"p":14,"t":5070,"v":600},{"p":14,"t":5073,"v":-1200},{"p":14,"t":5076,"v":1800},{"p":14,"t":5079,"v":-700},{"p":14,"t":5082,"v":2450},{"p":14,"t":5085,"v":-1500},{"p":14,"t":5088,"v":1000},{"p":14,"t":5091,"v":-2450},{"p":14,"t":5094,"v":1400},{"p":14,"t":5097,"v":-900},{"p":14,"t":5100,"v":1200},{"p":14,"t":5103,"v":-300},{"p":14,"t":5110,"v":15},{"p":14,"t":5117,"v":-300},{"p":14,"t":5120,"v":1500},{"p":14,"t":5123,"v":-1800},{"p":14,"t":5126,"v":2450},{"p":14,"t":5129,"v":-2000},{"p":14,"t":5132,"v":1500},{"p":14,"t":5135,"v":-2450},{"p":14,"t":5138,"v":2200},{"p":14,"t":5141,"v":-1200},{"p":14,"t":5144,"v":800},{"p":14,"t":5147,"v":-300},{"p":14,"t":5160,"v":15},{"p":14,"t":5185,"v":-15},{"p":14,"t":5190,"v":2450},{"p":14,"t":5192,"v":-2450},{"p":14,"t":5194,"v":15},{"p":14,"t":5205,"v":-15},{"p":14,"t":5207,"v":2450},{"p":14,"t":5209,"v":-2450},{"p":14,"t":5211,"v":15},{"p":14,"t":5225,"v":-15},{"p":14,"t":5229,"v":800},{"p":14,"t":5232,"v":-1500},{"p":14,"t":5235,"v":2450},{"p":14,"t":5238,"v":-2450},{"p":14,"t":5241,"v":2000},{"p":14,"t":5244,"v":-2450},{"p":14,"t":5247,"v":2450},{"p":14,"t":5250,"v":-1800},{"p":14,"t":5252,"v":1500},

{"p":15,"t":2379,"v":0},{"p":15,"t":2500,"v":15},{"p":15,"t":2700,"v":-15},{"p":15,"t":2900,"v":15},{"p":15,"t":3100,"v":-15},{"p":15,"t":3300,"v":15},{"p":15,"t":3500,"v":-15},{"p":15,"t":3700,"v":15},{"p":15,"t":3900,"v":-15},{"p":15,"t":4100,"v":15},{"p":15,"t":4300,"v":-15},{"p":15,"t":4500,"v":15},{"p":15,"t":4700,"v":-15},{"p":15,"t":4900,"v":15},{"p":15,"t":4978,"v":-15},
{"p":15,"t":4981,"v":2450},{"p":15,"t":4983,"v":-2450},{"p":15,"t":4986,"v":1400},{"p":15,"t":4989,"v":-1200},{"p":15,"t":4992,"v":900},{"p":15,"t":4995,"v":-1300},{"p":15,"t":4998,"v":700},{"p":15,"t":5001,"v":-900},{"p":15,"t":5004,"v":500},{"p":15,"t":5007,"v":-300},{"p":15,"t":5010,"v":100},{"p":15,"t":5030,"v":-15},{"p":15,"t":5034,"v":300},{"p":15,"t":5036,"v":-300},{"p":15,"t":5038,"v":15},{"p":15,"t":5100,"v":-15},{"p":15,"t":5150,"v":15},{"p":15,"t":5186,"v":-15},{"p":15,"t":5188,"v":300},{"p":15,"t":5190,"v":-200},{"p":15,"t":5192,"v":15},{"p":15,"t":5205,"v":-15},{"p":15,"t":5207,"v":2450},{"p":15,"t":5209,"v":-2450},{"p":15,"t":5211,"v":15},{"p":15,"t":5228,"v":-15},{"p":15,"t":5232,"v":600},{"p":15,"t":5235,"v":-1000},{"p":15,"t":5238,"v":1500},{"p":15,"t":5241,"v":-1400},{"p":15,"t":5244,"v":1300},{"p":15,"t":5247,"v":-1500},{"p":15,"t":5250,"v":1000},{"p":15,"t":5252,"v":-600},

{"p":16,"t":1286,"v":0},{"p":16,"t":1400,"v":20},{"p":16,"t":1600,"v":-20},{"p":16,"t":1800,"v":20},{"p":16,"t":2000,"v":-20},{"p":16,"t":2200,"v":20},{"p":16,"t":2400,"v":-20},{"p":16,"t":2600,"v":20},{"p":16,"t":2800,"v":-20},{"p":16,"t":3000,"v":20},{"p":16,"t":3200,"v":-20},{"p":16,"t":3400,"v":20},{"p":16,"t":3600,"v":-20},{"p":16,"t":3800,"v":20},{"p":16,"t":4000,"v":-20},{"p":16,"t":4200,"v":20},{"p":16,"t":4400,"v":-20},{"p":16,"t":4600,"v":20},{"p":16,"t":4800,"v":-20},{"p":16,"t":4950,"v":20},
{"p":16,"t":4955,"v":2450},{"p":16,"t":4957,"v":-2450},{"p":16,"t":4960,"v":1200},{"p":16,"t":4963,"v":-900},{"p":16,"t":4966,"v":2450},{"p":16,"t":4969,"v":-2450},{"p":16,"t":4972,"v":2400},{"p":16,"t":4975,"v":-300},{"p":16,"t":4980,"v":20},{"p":16,"t":4990,"v":-20},{"p":16,"t":5000,"v":20},{"p":16,"t":5010,"v":-20},{"p":16,"t":5016,"v":2450},{"p":16,"t":5019,"v":-2450},{"p":16,"t":5022,"v":2450},{"p":16,"t":5025,"v":-2450},{"p":16,"t":5028,"v":2450},{"p":16,"t":5031,"v":-2450},{"p":16,"t":5034,"v":2000},{"p":16,"t":5037,"v":-1200},{"p":16,"t":5040,"v":1000},{"p":16,"t":5043,"v":-1400},{"p":16,"t":5046,"v":800},{"p":16,"t":5049,"v":-600},{"p":16,"t":5052,"v":1100},{"p":16,"t":5055,"v":-900},{"p":16,"t":5058,"v":500},{"p":16,"t":5061,"v":-1600},{"p":16,"t":5064,"v":800},{"p":16,"t":5067,"v":-400},{"p":16,"t":5070,"v":0},

{"p":17,"t":1286,"v":0},{"p":17,"t":1400,"v":-25},{"p":17,"t":1600,"v":25},{"p":17,"t":1800,"v":-25},{"p":17,"t":2000,"v":25},{"p":17,"t":2200,"v":-25},{"p":17,"t":2400,"v":25},{"p":17,"t":2600,"v":-25},{"p":17,"t":2800,"v":25},{"p":17,"t":3000,"v":-25},{"p":17,"t":3200,"v":25},{"p":17,"t":3400,"v":-25},{"p":17,"t":3600,"v":25},{"p":17,"t":3800,"v":-25},{"p":17,"t":4000,"v":25},{"p":17,"t":4200,"v":-25},{"p":17,"t":4400,"v":25},{"p":17,"t":4600,"v":-25},{"p":17,"t":4800,"v":25},{"p":17,"t":4948,"v":-25},
{"p":17,"t":4952,"v":-100},{"p":17,"t":4955,"v":2450},{"p":17,"t":4958,"v":-2450},{"p":17,"t":4961,"v":2450},{"p":17,"t":4964,"v":-2450},{"p":17,"t":4967,"v":2450},{"p":17,"t":4970,"v":-2450},{"p":17,"t":4973,"v":2300},{"p":17,"t":4976,"v":-2450},{"p":17,"t":4979,"v":2450},{"p":17,"t":4982,"v":-2000},{"p":17,"t":4985,"v":1500},{"p":17,"t":4988,"v":-1700},{"p":17,"t":4991,"v":1200},{"p":17,"t":4994,"v":-800},{"p":17,"t":4997,"v":600},{"p":17,"t":5000,"v":-1000},{"p":17,"t":5003,"v":700},{"p":17,"t":5006,"v":-500},{"p":17,"t":5009,"v":400},{"p":17,"t":5012,"v":-300},{"p":17,"t":5016,"v":2450},{"p":17,"t":5019,"v":-2450},{"p":17,"t":5022,"v":2450},{"p":17,"t":5025,"v":-2450},{"p":17,"t":5028,"v":2000},{"p":17,"t":5031,"v":-1800},{"p":17,"t":5034,"v":1200},{"p":17,"t":5037,"v":-2450},{"p":17,"t":5040,"v":2450},{"p":17,"t":5043,"v":-2000},{"p":17,"t":5046,"v":1200},{"p":17,"t":5049,"v":-1500},{"p":17,"t":5052,"v":2450},{"p":17,"t":5055,"v":-2450},{"p":17,"t":5058,"v":2450},{"p":17,"t":5061,"v":-2450},{"p":17,"t":5064,"v":2000},{"p":17,"t":5066,"v":-1000},{"p":17,"t":5068,"v":300},{"p":17,"t":5070,"v":0},

{"p":18,"t":1286,"v":0},{"p":18,"t":1288,"v":120},{"p":18,"t":1290,"v":-120},{"p":18,"t":1292,"v":100},{"p":18,"t":1294,"v":-80},{"p":18,"t":1297,"v":0},{"p":18,"t":1400,"v":30},{"p":18,"t":1600,"v":-30},{"p":18,"t":1800,"v":30},{"p":18,"t":2000,"v":-30},{"p":18,"t":2200,"v":30},{"p":18,"t":2400,"v":-30},{"p":18,"t":2600,"v":30},{"p":18,"t":2800,"v":-30},{"p":18,"t":3000,"v":30},{"p":18,"t":3200,"v":-30},{"p":18,"t":3400,"v":30},{"p":18,"t":3600,"v":-30},{"p":18,"t":3800,"v":30},{"p":18,"t":4000,"v":-30},{"p":18,"t":4200,"v":30},{"p":18,"t":4400,"v":-30},{"p":18,"t":4600,"v":30},{"p":18,"t":4800,"v":-30},{"p":18,"t":4948,"v":30},
{"p":18,"t":4952,"v":-150},{"p":18,"t":4955,"v":2450},{"p":18,"t":4958,"v":-2450},{"p":18,"t":4961,"v":2450},{"p":18,"t":4964,"v":-2450},{"p":18,"t":4967,"v":1800},{"p":18,"t":4970,"v":-2450},{"p":18,"t":4973,"v":2450},{"p":18,"t":4976,"v":-2450},{"p":18,"t":4979,"v":2450},{"p":18,"t":4982,"v":-2450},{"p":18,"t":4985,"v":2450},{"p":18,"t":4988,"v":-2450},{"p":18,"t":4991,"v":1500},{"p":18,"t":4994,"v":-2450},{"p":18,"t":4997,"v":2450},{"p":18,"t":5000,"v":-2450},{"p":18,"t":5003,"v":2450},{"p":18,"t":5006,"v":-2450},{"p":18,"t":5009,"v":2450},{"p":18,"t":5012,"v":-1800},{"p":18,"t":5015,"v":2450},{"p":18,"t":5018,"v":-2450},{"p":18,"t":5021,"v":2450},{"p":18,"t":5024,"v":-2450},{"p":18,"t":5027,"v":2450},{"p":18,"t":5030,"v":-2450},{"p":18,"t":5033,"v":2450},{"p":18,"t":5036,"v":-2450},{"p":18,"t":5039,"v":1600},{"p":18,"t":5042,"v":-2450},{"p":18,"t":5045,"v":2450},{"p":18,"t":5048,"v":-1500},{"p":18,"t":5051,"v":2450},{"p":18,"t":5054,"v":-2450},{"p":18,"t":5057,"v":2450},{"p":18,"t":5060,"v":-1800},{"p":18,"t":5063,"v":2450},{"p":18,"t":5066,"v":-2450},{"p":18,"t":5068,"v":300},{"p":18,"t":5072,"v":-50},{"p":18,"t":5074,"v":0},

{"p":19,"t":2412,"v":0},{"p":19,"t":2500,"v":15},{"p":19,"t":2700,"v":-15},{"p":19,"t":2900,"v":15},{"p":19,"t":3100,"v":-15},{"p":19,"t":3300,"v":15},{"p":19,"t":3500,"v":-15},{"p":19,"t":3700,"v":15},{"p":19,"t":3900,"v":-15},{"p":19,"t":4100,"v":15},{"p":19,"t":4300,"v":-15},{"p":19,"t":4500,"v":15},{"p":19,"t":4700,"v":-15},{"p":19,"t":4900,"v":15},{"p":19,"t":4958,"v":-15},
{"p":19,"t":4964,"v":-100},{"p":19,"t":4967,"v":2450},{"p":19,"t":4970,"v":-2450},{"p":19,"t":4973,"v":2450},{"p":19,"t":4976,"v":-2450},{"p":19,"t":4979,"v":2450},{"p":19,"t":4982,"v":-2450},{"p":19,"t":4985,"v":2200},{"p":19,"t":4988,"v":-2450},{"p":19,"t":4991,"v":1800},{"p":19,"t":4994,"v":-2450},{"p":19,"t":4997,"v":2450},{"p":19,"t":5000,"v":-1200},{"p":19,"t":5003,"v":900},{"p":19,"t":5006,"v":-1300},{"p":19,"t":5009,"v":700},{"p":19,"t":5012,"v":-800},{"p":19,"t":5015,"v":2450},{"p":19,"t":5018,"v":-2450},{"p":19,"t":5021,"v":2450},{"p":19,"t":5024,"v":-1600},{"p":19,"t":5027,"v":1200},{"p":19,"t":5030,"v":-2450},{"p":19,"t":5033,"v":2450},{"p":19,"t":5036,"v":-900},{"p":19,"t":5039,"v":1500},{"p":19,"t":5042,"v":-2450},{"p":19,"t":5045,"v":2450},{"p":19,"t":5048,"v":-1000},{"p":19,"t":5051,"v":1300},{"p":19,"t":5054,"v":-2450},{"p":19,"t":5057,"v":2450},{"p":19,"t":5060,"v":-1400},{"p":19,"t":5063,"v":900},{"p":19,"t":5066,"v":-2450},{"p":19,"t":5069,"v":2450},{"p":19,"t":5072,"v":-1200},{"p":19,"t":5075,"v":2450},{"p":19,"t":5078,"v":-2450},{"p":19,"t":5081,"v":2450},{"p":19,"t":5084,"v":-900},{"p":19,"t":5087,"v":500},{"p":19,"t":5090,"v":-600},{"p":19,"t":5093,"v":400},{"p":19,"t":5096,"v":-300},{"p":19,"t":5099,"v":2450},{"p":19,"t":5102,"v":-2450},{"p":19,"t":5105,"v":2450},{"p":19,"t":5108,"v":-2450},{"p":19,"t":5111,"v":2450},{"p":19,"t":5113,"v":-500},{"p":19,"t":5115,"v":0},

{"p":20,"t":2405,"v":0},{"p":20,"t":2412,"v":-300},{"p":20,"t":2415,"v":600},{"p":20,"t":2418,"v":-700},{"p":20,"t":2421,"v":900},{"p":20,"t":2424,"v":-600},{"p":20,"t":2427,"v":500},{"p":20,"t":2430,"v":-800},{"p":20,"t":2433,"v":400},{"p":20,"t":2436,"v":-300},{"p":20,"t":2439,"v":700},{"p":20,"t":2442,"v":-900},{"p":20,"t":2445,"v":600},{"p":20,"t":2448,"v":-400},{"p":20,"t":2451,"v":300},{"p":20,"t":2454,"v":-500},{"p":20,"t":2457,"v":950},{"p":20,"t":2460,"v":-950},{"p":20,"t":2463,"v":500},{"p":20,"t":2466,"v":-300},{"p":20,"t":2470,"v":15},{"p":20,"t":2600,"v":-15},{"p":20,"t":2800,"v":15},{"p":20,"t":3000,"v":-15},{"p":20,"t":3200,"v":15},{"p":20,"t":3400,"v":-15},{"p":20,"t":3600,"v":15},{"p":20,"t":3800,"v":-15},{"p":20,"t":4000,"v":15},{"p":20,"t":4200,"v":-15},{"p":20,"t":4400,"v":15},{"p":20,"t":4600,"v":-15},{"p":20,"t":4800,"v":15},{"p":20,"t":4958,"v":-15},
{"p":20,"t":4964,"v":-150},{"p":20,"t":4967,"v":2450},{"p":20,"t":4970,"v":-2450},{"p":20,"t":4973,"v":2450},{"p":20,"t":4976,"v":-2450},{"p":20,"t":4979,"v":2450},{"p":20,"t":4982,"v":-2450},{"p":20,"t":4985,"v":2450},{"p":20,"t":4988,"v":-2450},{"p":20,"t":4991,"v":2000},{"p":20,"t":4994,"v":-2450},{"p":20,"t":4997,"v":1500},{"p":20,"t":5000,"v":-900},{"p":20,"t":5003,"v":600},{"p":20,"t":5006,"v":-800},{"p":20,"t":5009,"v":1000},{"p":20,"t":5012,"v":-2450},{"p":20,"t":5015,"v":2450},{"p":20,"t":5018,"v":-1200},{"p":20,"t":5021,"v":1000},{"p":20,"t":5024,"v":-2450},{"p":20,"t":5027,"v":2450},{"p":20,"t":5030,"v":-1500},{"p":20,"t":5033,"v":2450},{"p":20,"t":5036,"v":-2450},{"p":20,"t":5039,"v":1200},{"p":20,"t":5042,"v":-900},{"p":20,"t":5045,"v":2450},{"p":20,"t":5048,"v":-2450},{"p":20,"t":5051,"v":1300},{"p":20,"t":5054,"v":-1000},{"p":20,"t":5057,"v":2450},{"p":20,"t":5060,"v":-2450},{"p":20,"t":5063,"v":2450},{"p":20,"t":5066,"v":-1100},{"p":20,"t":5069,"v":900},{"p":20,"t":5072,"v":-2450},{"p":20,"t":5075,"v":2450},{"p":20,"t":5078,"v":-2450},{"p":20,"t":5081,"v":2450},{"p":20,"t":5084,"v":-1500},{"p":20,"t":5087,"v":900},{"p":20,"t":5090,"v":-700},{"p":20,"t":5093,"v":600},{"p":20,"t":5096,"v":-500},{"p":20,"t":5099,"v":2450},{"p":20,"t":5102,"v":-2450},{"p":20,"t":5105,"v":2450},{"p":20,"t":5108,"v":-2450},{"p":20,"t":5111,"v":2450},{"p":20,"t":5113,"v":-800},{"p":20,"t":5115,"v":0},

{"p":21,"t":2405,"v":0},{"p":21,"t":2412,"v":-200},{"p":21,"t":2415,"v":350},{"p":21,"t":2418,"v":-400},{"p":21,"t":2421,"v":300},{"p":21,"t":2424,"v":-350},{"p":21,"t":2427,"v":200},{"p":21,"t":2430,"v":-250},{"p":21,"t":2433,"v":150},{"p":21,"t":2436,"v":-200},{"p":21,"t":2439,"v":300},{"p":21,"t":2442,"v":-400},{"p":21,"t":2445,"v":350},{"p":21,"t":2448,"v":-200},{"p":21,"t":2451,"v":150},{"p":21,"t":2454,"v":-250},{"p":21,"t":2457,"v":400},{"p":21,"t":2460,"v":-400},{"p":21,"t":2463,"v":250},{"p":21,"t":2466,"v":-150},{"p":21,"t":2470,"v":15},{"p":21,"t":2600,"v":-15},{"p":21,"t":2800,"v":15},{"p":21,"t":3000,"v":-15},{"p":21,"t":3200,"v":15},{"p":21,"t":3400,"v":-15},{"p":21,"t":3600,"v":15},{"p":21,"t":3800,"v":-15},{"p":21,"t":4000,"v":15},{"p":21,"t":4200,"v":-15},{"p":21,"t":4400,"v":15},{"p":21,"t":4600,"v":-15},{"p":21,"t":4800,"v":15},{"p":21,"t":4958,"v":-15},
{"p":21,"t":4964,"v":-100},{"p":21,"t":4967,"v":2450},{"p":21,"t":4970,"v":-2450},{"p":21,"t":4973,"v":2450},{"p":21,"t":4976,"v":-2450},{"p":21,"t":4979,"v":2450},{"p":21,"t":4982,"v":-2200},{"p":21,"t":4985,"v":2450},{"p":21,"t":4988,"v":-2450},{"p":21,"t":4991,"v":1500},{"p":21,"t":4994,"v":-2450},{"p":21,"t":4997,"v":1200},{"p":21,"t":5000,"v":-1000},{"p":21,"t":5003,"v":700},{"p":21,"t":5006,"v":-900},{"p":21,"t":5009,"v":600},{"p":21,"t":5012,"v":-1200},{"p":21,"t":5015,"v":2450},{"p":21,"t":5018,"v":-2450},{"p":21,"t":5021,"v":1400},{"p":21,"t":5024,"v":-900},{"p":21,"t":5027,"v":2450},{"p":21,"t":5030,"v":-2450},{"p":21,"t":5033,"v":2450},{"p":21,"t":5036,"v":-1100},{"p":21,"t":5039,"v":800},{"p":21,"t":5042,"v":-2450},{"p":21,"t":5045,"v":2450},{"p":21,"t":5048,"v":-1500},{"p":21,"t":5051,"v":1000},{"p":21,"t":5054,"v":-2450},{"p":21,"t":5057,"v":2450},{"p":21,"t":5060,"v":-2450},{"p":21,"t":5063,"v":1200},{"p":21,"t":5066,"v":-800},{"p":21,"t":5069,"v":2450},{"p":21,"t":5072,"v":-2450},{"p":21,"t":5075,"v":2450},{"p":21,"t":5078,"v":-2450},{"p":21,"t":5081,"v":1800},{"p":21,"t":5084,"v":-1200},{"p":21,"t":5087,"v":700},{"p":21,"t":5090,"v":-600},{"p":21,"t":5093,"v":500},{"p":21,"t":5096,"v":-400},{"p":21,"t":5099,"v":2450},{"p":21,"t":5102,"v":-2450},{"p":21,"t":5105,"v":2450},{"p":21,"t":5108,"v":-2450},{"p":21,"t":5111,"v":2000},{"p":21,"t":5113,"v":-500},{"p":21,"t":5115,"v":0},

{"p":22,"t":1906,"v":0},{"p":22,"t":2000,"v":25},{"p":22,"t":2200,"v":-25},{"p":22,"t":2400,"v":25},{"p":22,"t":2600,"v":-25},{"p":22,"t":2800,"v":25},{"p":22,"t":3000,"v":-25},{"p":22,"t":3200,"v":25},{"p":22,"t":3400,"v":-25},{"p":22,"t":3600,"v":25},{"p":22,"t":3800,"v":-25},{"p":22,"t":4000,"v":25},{"p":22,"t":4200,"v":-25},{"p":22,"t":4400,"v":25},{"p":22,"t":4600,"v":-25},{"p":22,"t":4800,"v":25},{"p":22,"t":4950,"v":-25},
{"p":22,"t":4955,"v":-100},{"p":22,"t":4959,"v":1800},{"p":22,"t":4962,"v":-2450},{"p":22,"t":4965,"v":2450},{"p":22,"t":4968,"v":-2200},{"p":22,"t":4971,"v":2450},{"p":22,"t":4974,"v":-1200},{"p":22,"t":4977,"v":900},{"p":22,"t":4980,"v":-1000},{"p":22,"t":4983,"v":1200},{"p":22,"t":4986,"v":-800},{"p":22,"t":4989,"v":1000},{"p":22,"t":4992,"v":-1500},{"p":22,"t":4995,"v":2450},{"p":22,"t":4998,"v":-2450},{"p":22,"t":5001,"v":2450},{"p":22,"t":5004,"v":-2450},{"p":22,"t":5007,"v":1500},{"p":22,"t":5010,"v":-2450},{"p":22,"t":5013,"v":2450},{"p":22,"t":5016,"v":-2450},{"p":22,"t":5019,"v":2450},{"p":22,"t":5022,"v":-1400},{"p":22,"t":5025,"v":900},{"p":22,"t":5028,"v":-1100},{"p":22,"t":5031,"v":700},{"p":22,"t":5034,"v":-900},{"p":22,"t":5037,"v":1200},{"p":22,"t":5040,"v":-2450},{"p":22,"t":5043,"v":2450},{"p":22,"t":5046,"v":-2450},{"p":22,"t":5049,"v":2450},{"p":22,"t":5052,"v":-2450},{"p":22,"t":5055,"v":2200},{"p":22,"t":5058,"v":-1500},{"p":22,"t":5061,"v":800},{"p":22,"t":5064,"v":-1800},{"p":22,"t":5067,"v":1000},{"p":22,"t":5070,"v":-600},{"p":22,"t":5073,"v":900},{"p":22,"t":5076,"v":-1200},{"p":22,"t":5079,"v":700},{"p":22,"t":5082,"v":-900},{"p":22,"t":5085,"v":1500},{"p":22,"t":5088,"v":-700},{"p":22,"t":5091,"v":2000},{"p":22,"t":5094,"v":-400},{"p":22,"t":5097,"v":0},

{"p":23,"t":1906,"v":0},{"p":23,"t":2000,"v":-25},{"p":23,"t":2200,"v":25},{"p":23,"t":2400,"v":-25},{"p":23,"t":2600,"v":25},{"p":23,"t":2800,"v":-25},{"p":23,"t":3000,"v":25},{"p":23,"t":3200,"v":-25},{"p":23,"t":3400,"v":25},{"p":23,"t":3600,"v":-25},{"p":23,"t":3800,"v":25},{"p":23,"t":4000,"v":-25},{"p":23,"t":4200,"v":25},{"p":23,"t":4400,"v":-25},{"p":23,"t":4600,"v":25},{"p":23,"t":4800,"v":-25},{"p":23,"t":4950,"v":25},
{"p":23,"t":4955,"v":-200},{"p":23,"t":4958,"v":2450},{"p":23,"t":4961,"v":-2450},{"p":23,"t":4964,"v":2450},{"p":23,"t":4967,"v":-2450},{"p":23,"t":4970,"v":2450},{"p":23,"t":4973,"v":-2450},{"p":23,"t":4976,"v":2450},{"p":23,"t":4979,"v":-2450},{"p":23,"t":4982,"v":2450},{"p":23,"t":4985,"v":-2450},{"p":23,"t":4988,"v":2450},{"p":23,"t":4991,"v":-1600},{"p":23,"t":4994,"v":2450},{"p":23,"t":4997,"v":-2450},{"p":23,"t":5000,"v":2450},{"p":23,"t":5003,"v":-2450},{"p":23,"t":5006,"v":2450},{"p":23,"t":5009,"v":-2450},{"p":23,"t":5012,"v":2450},{"p":23,"t":5015,"v":-2450},{"p":23,"t":5018,"v":2450},{"p":23,"t":5021,"v":-2450},{"p":23,"t":5024,"v":2450},{"p":23,"t":5027,"v":-2450},{"p":23,"t":5030,"v":2450},{"p":23,"t":5033,"v":-2450},{"p":23,"t":5036,"v":1800},{"p":23,"t":5039,"v":-2450},{"p":23,"t":5042,"v":2450},{"p":23,"t":5045,"v":-2450},{"p":23,"t":5048,"v":2450},{"p":23,"t":5051,"v":-2450},{"p":23,"t":5054,"v":2450},{"p":23,"t":5057,"v":-2450},{"p":23,"t":5060,"v":2200},{"p":23,"t":5063,"v":-1500},{"p":23,"t":5066,"v":1200},{"p":23,"t":5069,"v":-2450},{"p":23,"t":5072,"v":1300},{"p":23,"t":5075,"v":-1000},{"p":23,"t":5078,"v":900},{"p":23,"t":5081,"v":-1400},{"p":23,"t":5084,"v":1200},{"p":23,"t":5087,"v":-800},{"p":23,"t":5090,"v":700},{"p":23,"t":5093,"v":-500},{"p":23,"t":5096,"v":300},{"p":23,"t":5098,"v":0},

{"p":24,"t":1906,"v":0},{"p":24,"t":2000,"v":30},{"p":24,"t":2200,"v":-30},{"p":24,"t":2400,"v":30},{"p":24,"t":2600,"v":-30},{"p":24,"t":2800,"v":30},{"p":24,"t":3000,"v":-30},{"p":24,"t":3200,"v":30},{"p":24,"t":3400,"v":-30},{"p":24,"t":3600,"v":30},{"p":24,"t":3800,"v":-30},{"p":24,"t":4000,"v":30},{"p":24,"t":4200,"v":-30},{"p":24,"t":4400,"v":30},{"p":24,"t":4600,"v":-30},{"p":24,"t":4800,"v":30},{"p":24,"t":4950,"v":-30},
{"p":24,"t":4955,"v":-150},{"p":24,"t":4958,"v":1500},{"p":24,"t":4961,"v":-2450},{"p":24,"t":4964,"v":2450},{"p":24,"t":4967,"v":-2450},{"p":24,"t":4970,"v":2450},{"p":24,"t":4973,"v":-2450},{"p":24,"t":4976,"v":2450},{"p":24,"t":4979,"v":-2450},{"p":24,"t":4982,"v":2450},{"p":24,"t":4985,"v":-2450},{"p":24,"t":4988,"v":2450},{"p":24,"t":4991,"v":-2450},{"p":24,"t":4994,"v":2450},{"p":24,"t":4997,"v":-2450},{"p":24,"t":5000,"v":2450},{"p":24,"t":5003,"v":-2450},{"p":24,"t":5006,"v":2450},{"p":24,"t":5009,"v":-2450},{"p":24,"t":5012,"v":2450},{"p":24,"t":5015,"v":-2450},{"p":24,"t":5018,"v":2450},{"p":24,"t":5021,"v":-2450},{"p":24,"t":5024,"v":2450},{"p":24,"t":5027,"v":-2450},{"p":24,"t":5030,"v":2450},{"p":24,"t":5033,"v":-2450},{"p":24,"t":5036,"v":2450},{"p":24,"t":5039,"v":-2450},{"p":24,"t":5042,"v":2000},{"p":24,"t":5045,"v":-2450},{"p":24,"t":5048,"v":2450},{"p":24,"t":5051,"v":-2450},{"p":24,"t":5054,"v":1800},{"p":24,"t":5057,"v":-2450},{"p":24,"t":5060,"v":2450},{"p":24,"t":5063,"v":-1600},{"p":24,"t":5066,"v":1500},{"p":24,"t":5069,"v":-2450},{"p":24,"t":5072,"v":1400},{"p":24,"t":5075,"v":-1200},{"p":24,"t":5078,"v":1600},{"p":24,"t":5081,"v":-900},{"p":24,"t":5084,"v":1200},{"p":24,"t":5087,"v":-1400},{"p":24,"t":5090,"v":800},{"p":24,"t":5093,"v":-600},{"p":24,"t":5096,"v":400},{"p":24,"t":5098,"v":0}
]},
"facet": {"row": {"field": "p", "type": "ordinal", "header": null, "title": null}},
"spacing": {"row": 0},
"resolve": {"axis": {"y": "independent"}},
"spec": {
 "width": 1078,
 "height": 95.8,
 "layer": [
  {"transform": [{"filter": "isValid(datum.t)"}],
   "mark": {"type": "line", "color": "#0000ff", "strokeWidth": 1.3, "clip": true},
   "encoding": {
    "x": {"field": "t", "type": "quantitative", "scale": {"domain": [1286, 5252], "nice": false, "zero": false},
          "axis": {"title": null, "values": [1800, 2700, 3600, 4500], "tickCount": 20, "labelExpr": "datum.value == 1800 ? '2026-03-18T02:30:00' : datum.value == 2700 ? '02:45:00' : datum.value == 3600 ? '03:00:00' : '03:15:00'", "labelPadding": 4, "labelFlush": false, "labelOverlap": false}},
    "y": {"field": "v", "type": "quantitative", "scale": {"domain": [-2740, 2740], "nice": false, "zero": false},
          "axis": {"title": null, "values": [-2400, -1600, -800, 0, 800, 1600, 2400], "tickCount": 10, "format": "d", "labelPadding": 6, "labelFlush": false, "labelOverlap": false}}
   }},
  {"transform": [{"filter": "isValid(datum.name)"}],
   "mark": {"type": "rect", "fill": "white", "stroke": "#444444", "strokeWidth": 1, "cornerRadius": 3},
   "encoding": {"x": {"datum": 1350, "type": "quantitative"}, "x2": {"datum": 1688}, "y": {"datum": 2586, "type": "quantitative"}, "y2": {"datum": 1516}}},
  {"transform": [{"filter": "isValid(datum.name)"}],
   "mark": {"type": "text", "align": "left", "baseline": "middle", "fontSize": 11.7, "font": "DejaVu Sans", "color": "black"},
   "encoding": {"x": {"datum": 1361, "type": "quantitative"}, "y": {"datum": 2051, "type": "quantitative"}, "text": {"field": "name"}}}
 ]
},
"config": {
 "view": {"stroke": "black", "strokeWidth": 1},
 "axis": {"grid": false, "domain": false, "tickColor": "black", "labelColor": "black", "labelFont": "DejaVu Sans", "labelFontSize": 11.5, "tickSize": 4}
}
}
